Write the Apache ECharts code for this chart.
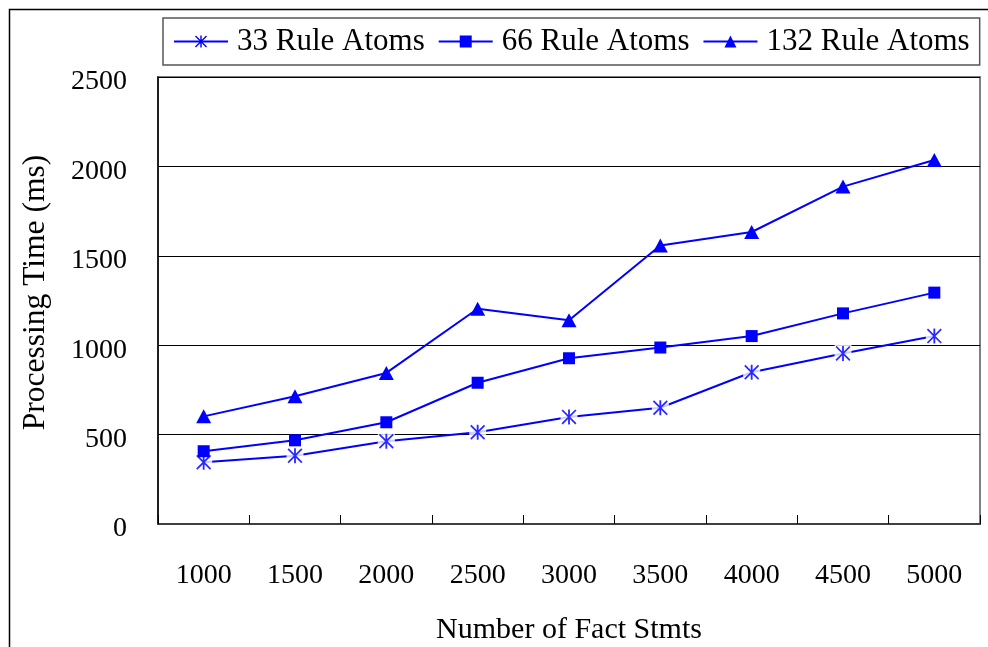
<!DOCTYPE html>
<html>
<head>
<meta charset="utf-8">
<script src="https://cdn.jsdelivr.net/npm/echarts@6/dist/echarts.min.js"></script>
<style>
html,body{margin:0;padding:0;background:#fff;}
#chart{width:988px;height:647px;}
</style>
</head>
<body>
<div id="chart"></div>
<script>
const categories = ['1000','1500','2000','2500','3000','3500','4000','4500','5000'];
const atoms33 = [345, 382, 463, 513, 599, 650, 849, 954, 1051];
const atoms66 = [407, 468, 569, 790, 927, 987, 1051, 1178, 1294];
const atoms132 = [602, 715, 845, 1204, 1140, 1558, 1633, 1887, 2036];
const seriesNames = ['33 Rule Atoms', '66 Rule Atoms', '132 Rule Atoms'];
const yTicks = [0, 500, 1000, 1500, 2000, 2500];

const FONT = 'Liberation Serif';
const BLUE = '#0000FF';
const asterisk = 'path://M44,0 L56,0 L56,100 L44,100 Z M8,0 L100,92 L92,100 L0,8 Z M92,0 L100,8 L8,100 L0,92 Z';

const chart = echarts.init(document.getElementById('chart'), null, {renderer: 'canvas'});
chart.setOption({
  animation: false,
  backgroundColor: '#fff',
  graphic: [{
    type: 'rect', left: 7, top: 7, z: 0,
    shape: {x: 0, y: 0, width: 1000, height: 700},
    style: {fill: 'none', stroke: '#000', lineWidth: 1.5}
  }],
  grid: {
    left: 158, right: 8, top: 77, bottom: 123,
    outerBoundsMode: 'none',
    containLabel: false,
    show: true, borderColor: '#808080', borderWidth: 2, backgroundColor: 'transparent'
  },
  legend: {
    left: 163, top: 18, width: 830,
    padding: [8, 10, 8, 10],
    borderColor: '#555', borderWidth: 1.5,
    itemWidth: 54, itemHeight: 15, itemGap: 13,
    data: seriesNames,
    textStyle: {fontFamily: FONT, fontSize: 31, color: '#000', padding: [0, 0, 0, 4]}
  },
  xAxis: {
    type: 'category',
    data: categories,
    boundaryGap: true,
    name: 'Number of Fact Stmts',
    nameLocation: 'middle',
    nameGap: 91,
    nameTextStyle: {fontFamily: FONT, fontSize: 30, color: '#000'},
    axisLine: {lineStyle: {color: '#404040', width: 2}},
    axisTick: {show: true, inside: true, length: 9, lineStyle: {color: '#000', width: 1}},
    axisLabel: {fontFamily: FONT, fontSize: 28, color: '#000', margin: 38},
    splitLine: {show: false}
  },
  yAxis: {
    type: 'value',
    min: 0, max: 2500, interval: 500,
    name: 'Processing Time (ms)',
    nameLocation: 'middle',
    nameGap: 106,
    nameTextStyle: {fontFamily: FONT, fontSize: 31.5, color: '#000', padding: [0, 0, 0, 16]},
    axisLine: {show: true, lineStyle: {color: '#000', width: 1.5}},
    axisTick: {show: false},
    axisLabel: {color: '#000', margin: 31,
      formatter: v => yTicks.indexOf(v) >= 0 ? '{t|' + v + '}' : '',
      rich: {t: {fontFamily: FONT, fontSize: 28, color: '#000', padding: [10, 0, 0, 0]}}
    },
    splitLine: {show: true, lineStyle: {color: '#000', width: 1}}
  },
  series: [
    {
      name: seriesNames[0], type: 'line', data: atoms33, z: 2,
      symbol: asterisk, symbolSize: 14,
      lineStyle: {color: BLUE, width: 2},
      itemStyle: {color: BLUE}
    },
    {
      name: '_mask', type: 'scatter', data: atoms33, z: 3,
      symbol: 'rect', symbolSize: 17, silent: true,
      itemStyle: {color: '#fff'}
    },
    {
      name: '_ast', type: 'scatter', data: atoms33, z: 4,
      symbol: asterisk, symbolSize: 15, silent: true,
      itemStyle: {color: BLUE}
    },
    {
      name: seriesNames[1], type: 'line', data: atoms66, z: 5,
      symbol: 'rect', symbolSize: 12,
      lineStyle: {color: BLUE, width: 2},
      itemStyle: {color: BLUE}
    },
    {
      name: seriesNames[2], type: 'line', data: atoms132, z: 5,
      symbol: 'triangle', symbolSize: [15, 14],
      lineStyle: {color: BLUE, width: 2},
      itemStyle: {color: BLUE}
    }
  ]
});
</script>
</body>
</html>
